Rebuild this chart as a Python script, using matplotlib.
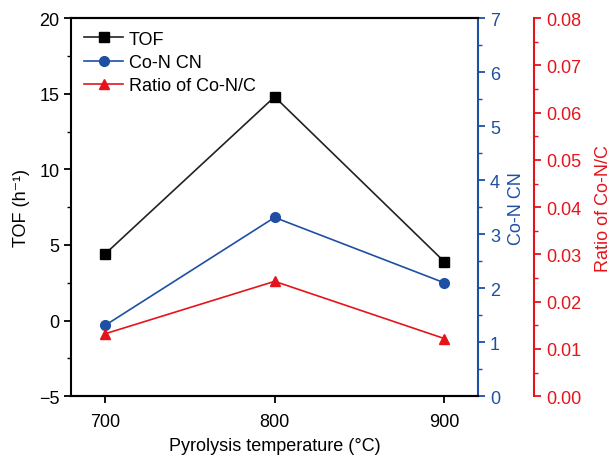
import numpy as np
import matplotlib.pyplot as plt
from matplotlib.ticker import MultipleLocator

plt.rcParams['font.family'] = ['Liberation Sans', 'DejaVu Sans']
plt.rcParams['font.size'] = 13

# data
temps = [700, 800, 900]
tof = [4.4, 14.8, 3.9]
con_cn = [1.31, 3.31, 2.10]
ratio = [0.0132, 0.0243, 0.0122]

black = '#000000'
blue = '#1f4fa3'
red = '#e5141b'

fig = plt.figure(figsize=(6.13, 4.56), dpi=100)
ax = fig.add_axes([0.116, 0.129, 0.664, 0.829])
ax2 = ax.twinx()
ax3 = ax.twinx()
ax3.spines['right'].set_position(('axes', 1.138))

p1, = ax.plot(temps, tof, '-s', color='#222222', lw=1.2, ms=6.5, mfc=black, mec=black, label='TOF')
p2, = ax2.plot(temps, con_cn, '-o', color=blue, lw=1.2, ms=7, label='Co-N CN')
p3, = ax3.plot(temps, ratio, '-^', color=red, lw=1.2, ms=7, label='Ratio of Co-N/C')

ax.set_xlim(680, 920)
ax.set_ylim(-5, 20)
ax2.set_ylim(0, 7)
ax3.set_ylim(0, 0.08)

ax.set_xticks(temps)
ax.yaxis.set_major_locator(MultipleLocator(5))
ax.yaxis.set_minor_locator(MultipleLocator(2.5))
ax2.yaxis.set_major_locator(MultipleLocator(1))
ax2.yaxis.set_minor_locator(MultipleLocator(0.5))
ax3.yaxis.set_major_locator(MultipleLocator(0.01))
ax3.yaxis.set_minor_locator(MultipleLocator(0.005))
ax3.yaxis.set_major_formatter(plt.FormatStrFormatter('%.2f'))

for a in (ax, ax2, ax3):
    for s in a.spines.values():
        s.set_linewidth(1.5)
    a.tick_params(which='major', direction='out', length=5, width=1.3, labelsize=13)
    a.tick_params(which='minor', direction='out', length=3, width=1.0)

ax.spines['right'].set_visible(False)
ax2.spines['left'].set_visible(False)
ax3.spines['left'].set_visible(False)
ax3.spines['top'].set_visible(False)
ax3.spines['bottom'].set_visible(False)
ax2.spines['right'].set_color(blue)
ax3.spines['right'].set_color(red)
ax2.tick_params(axis='y', which='both', colors=blue)
ax3.tick_params(axis='y', which='both', colors=red)
ax.tick_params(axis='x', which='minor', bottom=False)
ax.tick_params(axis='x', which='major', pad=7)

ax.set_xlabel('Pyrolysis temperature (°C)', fontsize=13, labelpad=5)
ax.set_ylabel('TOF (h⁻¹)', fontsize=13, labelpad=6)
ax2.set_ylabel('Co-N CN', color=blue, fontsize=13, labelpad=6)
ax3.set_ylabel('Ratio of Co-N/C', color=red, fontsize=13, labelpad=10)

ax.legend([p1, p2, p3], ['TOF', 'Co-N CN', 'Ratio of Co-N/C'], loc='upper left',
          frameon=False, fontsize=13, handlelength=2.2, handletextpad=0.3,
          labelspacing=0.35, borderaxespad=0.3)

fig.savefig('out.png', dpi=100)
